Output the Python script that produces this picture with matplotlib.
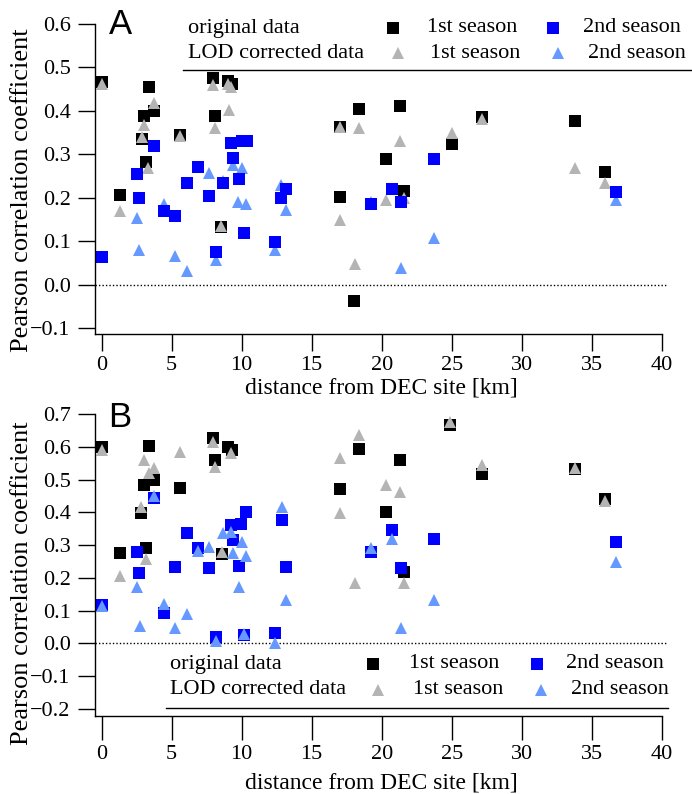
"""Pearson correlation vs. distance from the DEC site, original and LOD corrected data."""

import matplotlib
matplotlib.use("Agg")
import matplotlib.pyplot as plt
from matplotlib.lines import Line2D

# -----------------------------
# Data: panel A
# -----------------------------
distA1stOrig = [0.0, 1.34, 3.36, 3.72, 3.0, 2.88, 3.19, 5.57, 7.93, 8.12, 8.55, 9.05, 9.3,
                17.05, 18.36, 21.3, 25.03, 20.31, 21.57, 17.05, 18.05, 27.17, 33.84, 35.93]
corrA1stOrig = [0.467, 0.207, 0.455, 0.40, 0.389, 0.336, 0.283, 0.345, 0.476, 0.389, 0.132, 0.468, 0.463,
                0.362, 0.405, 0.412, 0.324, 0.29, 0.215, 0.203, -0.038, 0.385, 0.376, 0.26]

distA1stLod = [0.0, 1.34, 3.7, 3.0, 2.88, 3.29, 5.57, 7.93, 8.12, 8.55, 9.2, 9.05, 9.12,
               17.05, 18.36, 21.3, 25.03, 20.3, 21.6, 17.05, 18.07, 27.17, 33.84, 35.93]
corrA1stLod = [0.462, 0.171, 0.418, 0.368, 0.341, 0.268, 0.342, 0.46, 0.36, 0.136, 0.455, 0.462, 0.402,
               0.364, 0.36, 0.331, 0.349, 0.195, 0.20, 0.149, 0.048, 0.382, 0.268, 0.235]

distA2ndOrig = [0.0, 3.72, 2.53, 2.69, 4.48, 5.26, 6.1, 6.88, 7.64, 8.14, 8.64, 9.27, 10.0, 10.4,
                9.38, 9.79, 10.15, 13.19, 12.84, 12.4, 23.7, 20.74, 21.4, 19.2, 36.76]
corrA2ndOrig = [0.065, 0.32, 0.254, 0.20, 0.169, 0.159, 0.235, 0.27, 0.205, 0.075, 0.234, 0.326, 0.33, 0.33,
                0.291, 0.244, 0.119, 0.22, 0.20, 0.098, 0.289, 0.22, 0.19, 0.186, 0.213]

distA2ndLod = [2.53, 2.69, 4.48, 5.2, 6.1, 7.64, 8.14, 8.64, 9.38, 10.0, 9.74, 10.33,
               12.84, 13.19, 12.4, 19.2, 21.4, 23.7, 36.76]
corrA2ndLod = [0.153, 0.08, 0.186, 0.067, 0.033, 0.257, 0.057, 0.24, 0.276, 0.268, 0.19, 0.186,
               0.23, 0.172, 0.08, 0.19, 0.038, 0.107, 0.195]

# -----------------------------
# Data: panel B
# -----------------------------
distB1stOrig = [0.0, 1.34, 3.36, 3.72, 3.0, 2.84, 3.19, 5.57, 7.93, 8.12, 8.6, 9.05, 9.3,
                17.05, 18.36, 21.3, 20.3, 21.6, 24.9, 27.17, 33.84, 35.93]
corrB1stOrig = [0.598, 0.275, 0.603, 0.498, 0.483, 0.397, 0.292, 0.473, 0.626, 0.561, 0.272, 0.60, 0.59,
                0.471, 0.592, 0.56, 0.40, 0.218, 0.665, 0.518, 0.532, 0.44]

distB1stLod = [0.0, 1.34, 3.0, 3.7, 3.36, 2.84, 3.19, 5.57, 7.93, 8.12, 8.6, 9.2,
               17.05, 17.05, 18.36, 20.3, 21.3, 18.07, 21.6, 24.9, 27.17, 33.84, 35.93]
corrB1stLod = [0.59, 0.206, 0.561, 0.536, 0.521, 0.415, 0.257, 0.585, 0.615, 0.539, 0.28, 0.58,
               0.565, 0.397, 0.636, 0.483, 0.463, 0.183, 0.183, 0.675, 0.544, 0.535, 0.435]

distB2ndOrig = [0.0, 2.53, 2.69, 3.72, 4.48, 5.26, 6.1, 6.88, 7.64, 8.14, 9.27, 9.98, 10.34,
                9.38, 9.79, 10.15, 12.88, 13.19, 12.4, 20.74, 23.7, 19.2, 21.4, 36.76]
corrB2ndOrig = [0.117, 0.28, 0.216, 0.444, 0.093, 0.232, 0.338, 0.292, 0.231, 0.018, 0.361, 0.364, 0.40,
                0.315, 0.237, 0.025, 0.376, 0.234, 0.03, 0.346, 0.317, 0.28, 0.229, 0.31]

distB2ndLod = [0.0, 2.53, 2.7, 3.72, 4.48, 5.26, 6.1, 6.88, 7.64, 8.14, 8.64, 9.27, 9.38, 10.0, 10.34,
               9.79, 10.15, 12.88, 13.19, 12.4, 20.74, 19.2, 23.7, 21.4, 36.76]
corrB2ndLod = [0.115, 0.173, 0.053, 0.45, 0.12, 0.046, 0.089, 0.282, 0.295, 0.008, 0.336, 0.341, 0.277, 0.31, 0.266,
               0.173, 0.028, 0.417, 0.132, 0.002, 0.317, 0.29, 0.132, 0.048, 0.249]

xTicks = [0, 5, 10, 15, 20, 25, 30, 35, 40]
yTicksA = [-0.1, 0.0, 0.1, 0.2, 0.3, 0.4, 0.5, 0.6]
yTicksB = [-0.2, -0.1, 0.0, 0.1, 0.2, 0.3, 0.4, 0.5, 0.6, 0.7]

# -----------------------------
# Style
# -----------------------------
figWidth, figHeight = 692, 794
serifFont = "Liberation Serif"
sansFont = "Liberation Sans"
colorOrig1st = "black"
colorLod1st = "#b4b4b4"
colorOrig2nd = "#0000ff"
colorLod2nd = "#6699ff"
squareSize = 8.0
triangleSize = 9.0

plt.rcParams["font.family"] = serifFont


def toFig(xPixel, yPixel):
    """Convert pixel position (origin top left) to figure fraction."""
    return xPixel / figWidth, 1.0 - yPixel / figHeight


def plotSeries(ax, dist, corr, marker, color, size):
    ax.plot(dist, corr, ls="none", marker=marker, ms=size, mew=0, color=color, clip_on=False)


def setupAxes(ax, yLim, yTicks, letter, letterY, xLabelY, yLabelY, xTickLength):
    """Axis layout shared by both panels."""
    ax.set_xlim(-0.48, 40.4)
    ax.set_ylim(*yLim)
    ax.set_xticks(xTicks)
    ax.set_yticks(yTicks)
    ax.set_yticklabels([f"{value:.1f}".replace("-", "\u2212") for value in yTicks])
    ax.spines["top"].set_visible(False)
    ax.spines["right"].set_visible(False)
    ax.spines["bottom"].set_bounds(-0.48, 40)
    for side in ["left", "bottom"]:
        ax.spines[side].set_linewidth(1.0)
    ax.tick_params(axis="y", direction="out", length=12, width=1.0, pad=5.5, labelsize=16)
    ax.tick_params(axis="x", direction="out", length=xTickLength, width=1.0, pad=4, labelsize=16)
    ax.axhline(0.0, color="black", lw=1.0, ls=(0, (1, 1.5)), zorder=1)

    ax.set_xlabel("distance from DEC site [km]", fontsize=17, va="center")
    ax.xaxis.set_label_coords(0.5, xLabelY)
    ax.set_ylabel("Pearson correlation coefficient", fontsize=19, va="center")
    ax.yaxis.set_label_coords(-0.128, yLabelY)

    ax.text(0.044, letterY, letter, transform=ax.transAxes, family=sansFont,
            fontsize=25, ha="center", va="center")


def drawKey(fig, rowYs, textX, markXs1, textXs1, markXs2, textXs2, lineY, lineX0, lineX1):
    """Two-row key with an underline, placed in pixel units."""
    rows = [
        ("original data", "s", colorOrig1st, colorOrig2nd, squareSize),
        ("LOD corrected data", "^", colorLod1st, colorLod2nd, triangleSize),
    ]
    for index, (label, marker, color1, color2, size) in enumerate(rows):
        rowY = rowYs[index]
        fig.text(*toFig(textX, rowY), label, fontsize=16, va="center", ha="left")
        for markX, textXs, color, season in [(markXs1[index], textXs1[index], color1, "1st season"),
                                              (markXs2[index], textXs2[index], color2, "2nd season")]:
            markPos = toFig(markX, rowY)
            fig.add_artist(Line2D([markPos[0]], [markPos[1]], ls="none", marker=marker,
                                  ms=size, mew=0, color=color))
            fig.text(*toFig(textXs, rowY), season, fontsize=16, va="center", ha="left")
    x0, y0 = toFig(lineX0, lineY)
    x1, _ = toFig(lineX1, lineY)
    fig.add_artist(Line2D([x0, x1], [y0, y0], color="black", lw=1.0))


def main():
    fig = plt.figure(figsize=(figWidth / 100, figHeight / 100), dpi=100)

    axA = fig.add_axes([95 / figWidth, 1 - 334 / figHeight, 572.3 / figWidth, 310 / figHeight])
    axB = fig.add_axes([95 / figWidth, 1 - 716 / figHeight, 572.3 / figWidth, 302 / figHeight])

    setupAxes(axA, (-0.113, 0.6), yTicksA, "A", 1.0, -0.174, 0.465, 12)
    setupAxes(axB, (-0.222, 0.7), yTicksB, "B", 0.987, -0.222, 0.44, 17)

    plotSeries(axA, distA1stOrig, corrA1stOrig, "s", colorOrig1st, squareSize)
    plotSeries(axA, distA1stLod, corrA1stLod, "^", colorLod1st, triangleSize)
    plotSeries(axA, distA2ndLod, corrA2ndLod, "^", colorLod2nd, triangleSize)
    plotSeries(axA, distA2ndOrig, corrA2ndOrig, "s", colorOrig2nd, squareSize)

    plotSeries(axB, distB1stOrig, corrB1stOrig, "s", colorOrig1st, squareSize)
    plotSeries(axB, distB1stLod, corrB1stLod, "^", colorLod1st, triangleSize)
    plotSeries(axB, distB2ndOrig, corrB2ndOrig, "s", colorOrig2nd, squareSize)
    plotSeries(axB, distB2ndLod, corrB2ndLod, "^", colorLod2nd, triangleSize)

    drawKey(fig, (28, 53), 188, (393, 398), (427, 430), (553, 558), (583, 588), 70, 183, 692)
    drawKey(fig, (664, 690), 170, (373, 378), (409, 413), (537, 541), (566, 571), 708, 166, 668)

    fig.savefig("out.png", dpi=100)


if __name__ == "__main__":
    main()
